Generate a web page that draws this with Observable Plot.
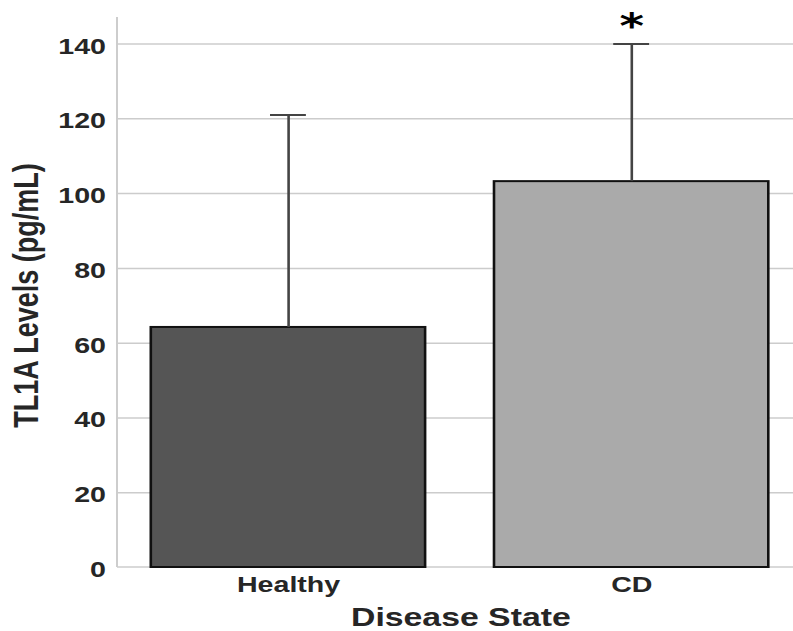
<!DOCTYPE html>
<html>
<head>
<meta charset="utf-8">
<script src="https://cdn.jsdelivr.net/npm/d3@7"></script>
<script src="https://cdn.jsdelivr.net/npm/@observablehq/plot@0.6"></script>
<style>
  html, body { margin: 0; padding: 0; background: #fff; }
  #wrap { width: 793px; height: 631px; overflow: hidden; position: relative; }
</style>
</head>
<body>
<div id="wrap"></div>
<script>
// ---- data ----
const states = ["Healthy", "CD"];
const means = [64.2, 103.2];
const uppers = [121, 140];
const significant = ["CD"];
const yTicks = [0, 20, 40, 60, 80, 100, 120, 140];
const gridTicks = [20, 40, 60, 80, 100, 120, 140];
const barColors = ["#555555", "#aaaaaa"];

const data = states.map((s, i) => ({state: s, mean: means[i], upper: uppers[i]}));
const sig = data.filter(d => significant.includes(d.state));

// horizontal stretch of the original figure
const S = 1.3;

function spines(index, scales, values, dims) {
  const {width, height, marginLeft, marginRight, marginTop, marginBottom} = dims;
  const g = d3.create("svg:g").attr("stroke", "#cccccc").attr("stroke-width", 1.5);
  g.append("line")
    .attr("x1", marginLeft).attr("x2", marginLeft)
    .attr("y1", marginTop).attr("y2", height - marginBottom);
  g.append("line")
    .attr("x1", marginLeft).attr("x2", width - marginRight)
    .attr("y1", height - marginBottom).attr("y2", height - marginBottom);
  return g.node();
}

const plot = Plot.plot({
  width: 618,
  height: 631,
  marginLeft: 90,
  marginRight: 0,
  marginTop: 17,
  marginBottom: 64,
  style: {fontFamily: "'Liberation Sans', Arial, sans-serif", background: "#fff", overflow: "visible"},
  x: {domain: states, paddingInner: 0.2, paddingOuter: 0.1, align: 0.5, label: null},
  y: {domain: [0, 147.1], label: null},
  color: {domain: states, range: barColors},
  marks: [
    Plot.gridY(gridTicks, {stroke: "#cccccc", strokeOpacity: 1, strokeWidth: 1.5}),
    spines,
    Plot.barY(data, {x: "state", y: "mean", fill: "state", stroke: "#111111", strokeWidth: 2}),
    Plot.ruleX(data, {x: "state", y1: "mean", y2: "upper", stroke: "#444444", strokeWidth: 2}),
    Plot.tickY(data, {x: "state", y: "upper", stroke: "#444444", strokeWidth: 2, insetLeft: 91.7, insetRight: 91.7}),
    Plot.text(sig, {x: "state", y: "upper", text: () => "*", fontSize: 36, fontWeight: "bold",
      fontFamily: "'DejaVu Sans', sans-serif", fill: "#000", dy: -18}),
    Plot.axisY({ticks: yTicks, tickSize: 0, tickPadding: 9, fontSize: 22, fontWeight: "bold",
      fill: "#262626", label: null, dy: 2.5}),
    Plot.axisX({tickSize: 0, tickPadding: 9, fontSize: 22, fontWeight: "bold", fill: "#262626", label: null}),
    Plot.text(["TL1A Levels (pg/mL)"], {frameAnchor: "left", text: d => d, rotate: -90, dx: -70, dy: 3,
      textAnchor: "middle", lineAnchor: "middle",
      fontSize: 27, fontWeight: "bold", fill: "#262626"}),
    Plot.text(["Disease State"], {frameAnchor: "bottom", text: d => d, dy: 50,
      textAnchor: "middle", lineAnchor: "middle",
      fontSize: 26, fontWeight: "bold", fill: "#262626"})
  ]
});

plot.style.transformOrigin = "0 0";
plot.style.transform = `scaleX(${S})`;
plot.style.maxWidth = "none";
document.getElementById("wrap").appendChild(plot);
</script>
</body>
</html>
